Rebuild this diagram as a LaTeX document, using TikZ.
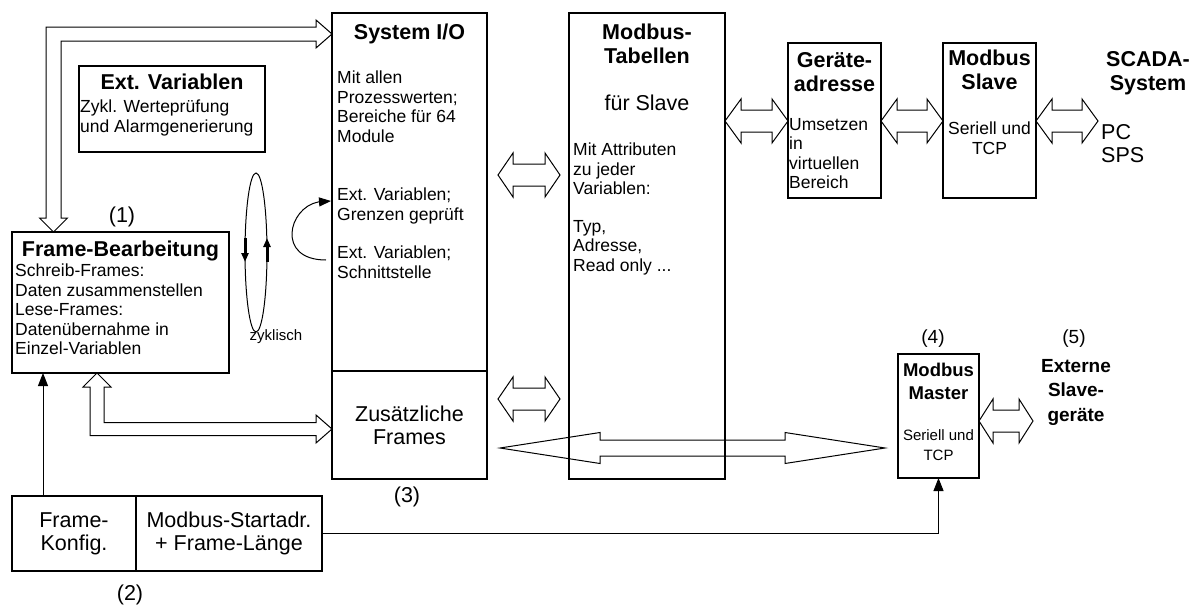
\documentclass[tikz,border=0pt]{standalone}
\usepackage{fontspec}
\setmainfont{Liberation Sans}
\usepackage{tikz}
\usetikzlibrary{arrows.meta, positioning, calc, shapes.geometric}
\newcommand{\ttlfont}{\fontsize{21.5pt}{24pt}\selectfont\bfseries}
\newcommand{\ttlsfont}{\fontsize{18.5pt}{23pt}\selectfont\bfseries}
\newcommand{\txtfont}{\fontsize{17.5pt}{19.5pt}\selectfont}
\newcommand{\bigfont}{\fontsize{21.5pt}{23pt}\selectfont}
\newcommand{\smlfont}{\fontsize{15pt}{20pt}\selectfont}
% hollow double arrow: left tip, right tip, head length, head half width, shaft half width
\newcommand{\dblarrow}[5]{%
  \draw[hollow] let \p1=(#1), \p2=(#2) in
    (\p1) -- (\x1+#3,\y1+#4) -- (\x1+#3,\y1+#5) -- (\x2-#3,\y1+#5)
    -- (\x2-#3,\y1+#4) -- (\x2,\y1) -- (\x2-#3,\y1-#4) -- (\x2-#3,\y1-#5)
    -- (\x1+#3,\y1-#5) -- (\x1+#3,\y1-#4) -- cycle;}
\tikzset{
	box/.style   ={rectangle, draw=black, line width=1.1pt, inner sep=0pt, outer sep=0pt, anchor=north west},
	ttl/.style   ={font=\ttlfont, inner sep=0pt, align=center},
	txt/.style   ={font=\txtfont, inner sep=0pt, align=left},
	big/.style   ={font=\bigfont, inner sep=0pt, align=center},
	sml/.style   ={font=\smlfont, inner sep=0pt, align=center},
	hollow/.style={draw=black, line width=1pt, line join=miter},
	sig/.style   ={-{Triangle[length=13pt, width=10pt]}, line width=1pt},
	cycarr/.style={-{Triangle[length=9pt, width=7pt]}, line width=3pt},
}
\begin{document}
\begin{tikzpicture}[x=1pt, y=1pt]
	\useasboundingbox (0,0) rectangle (1201,-605);
	% boxes
	\node[box, minimum width=186pt, minimum height=86pt] (extv) at (79,-66) {};
	\node[box, minimum width=217pt, minimum height=141pt] (fb) at (12,-232) {};
	\node[box, minimum width=155pt, minimum height=358pt] (sysio) at (332,-13) {};
	\node[box, below=0pt of sysio, minimum width=155pt, minimum height=108pt, font=\bigfont, align=center] (zusf) {Zusätzliche\\Frames};
	\node[box, below right=0pt and 82pt of sysio.north east, minimum width=156pt, minimum height=466pt] (tab) {};
	\node[box, below right=30pt and 63pt of tab.north east, minimum width=93pt, minimum height=155pt] (geraet) {};
	\node[box, right=62pt of geraet, minimum width=93pt, minimum height=155pt] (slave) {};
	\node[box, minimum width=81pt, minimum height=124pt] (master) at (898,-354) {};
	\node[box, minimum width=124pt, minimum height=75pt, font=\bigfont, align=center] (fk) at (12,-496) {Frame-\\Konfig.};
	\node[box, right=0pt of fk, minimum width=186pt, minimum height=75pt, font=\bigfont, align=center] (msa) {Modbus-Startadr.\\+ Frame-Länge};
	% texts
	\node[ttl, below=8pt of extv.north] (extvttl) {Ext. Variablen};
	\node[txt, below right=34pt and 1pt of extv.north west] (extvtxt) {Zykl. Werteprüfung\\und Alarmgenerierung};
	\node[ttl, below=9pt of fb.north] (fbttl) {Frame-Bearbeitung};
	\node[txt, below right=32pt and 3pt of fb.north west] (fbtxt) {Schreib-Frames:\\Daten zusammenstellen\\Lese-Frames:\\Datenübernahme in\\Einzel-Variablen};
	\node[big] (n1) at (122,-217) {(1)};
	\node[ttl, below=11pt of sysio.north] (sysiottl) {System I/O};
	\node[txt, below right=58pt and 5pt of sysio.north west] (sysiotxta) {Mit allen\\Prozesswerten;\\Bereiche für 64\\Module};
	\node[txt, below right=175pt and 5pt of sysio.north west] (sysiotxtb) {Ext. Variablen;\\Grenzen geprüft};
	\node[txt, below right=233pt and 5pt of sysio.north west] (sysiotxtc) {Ext. Variablen;\\Schnittstelle};
	\node[big] (n3) at (407,-497) {(3)};
	\node[ttl, below=11pt of tab.north] (tabttl) {Modbus-\\Tabellen};
	\node[big, below=82pt of tab.north] (tabslave) {für Slave};
	\node[txt, below right=130pt and 4pt of tab.north west] (tabtxta) {Mit Attributen\\zu jeder\\Variablen:};
	\node[txt, below right=207pt and 4pt of tab.north west] (tabtxtb) {Typ,\\Adresse,\\Read only ...};
	\node[ttl, below=9pt of geraet.north] (geraetttl) {Geräte-\\adresse};
	\node[txt, below right=75pt and 1pt of geraet.north west] (geraettxt) {Umsetzen\\in\\virtuellen\\Bereich};
	\node[ttl, below=7pt of slave.north] (slavettl) {Modbus\\Slave};
	\node[txt, align=center, below=79pt of slave.north] (slavetxt) {Seriell und\\TCP};
	\node[ttl, anchor=north] (scada) at (1148,-51) {SCADA-\\System};
	\node[big, anchor=north west, align=left] (pcsps) at (1101,-124) {PC\\SPS};
	\node[big, font=\fontsize{19pt}{23pt}\selectfont] (n4) at (933,-339) {(4)};
	\node[ttl, font=\ttlsfont, below=9pt of master.north] (masterttl) {Modbus\\Master};
	\node[sml, below=75pt of master.north] (mastertxt) {Seriell und\\TCP};
	\node[big, font=\fontsize{19pt}{23pt}\selectfont] (n5) at (1074,-339) {(5)};
	\node[ttl, font=\fontsize{19pt}{24.5pt}\selectfont\bfseries, anchor=north] (extslave) at (1076,-359) {Externe\\Slave-\\geräte};
	\node[big] (n2) at (130,-595) {(2)};
	% cycle
	\node[draw, ellipse, line width=1pt, inner sep=0pt, outer sep=0pt, minimum width=22pt, minimum height=159pt] (cyc) at (256,-252.5) {};
	\node[sml] (zykl) at (276,-337) {zyklisch};
	\draw[cycarr] ($(cyc.west)+(0,14.5)$) -- ($(cyc.west)+(0,-9.5)$);
	\draw[cycarr] ($(cyc.east)+(0,-9.5)$) -- ($(cyc.east)+(0,14.5)$);
	\coordinate (loopin) at (326,-260);
	\coordinate (loopout) at (318,-202);
	\draw[sig, -{Triangle[length=12pt, width=9pt]}] (loopin) .. controls +(-50,0) and +(-30,-6) .. (loopout) -- ($(sysio.north west)+(-1,-188)$);
	% thin connectors
	\draw[sig] ($(fk.north west)+(31,0)$) -- ($(fb.south west)+(31,0)$);
	\draw[sig] (msa.east) -| (master.south);
	% hollow connectors
	\draw[hollow] let \p1=($(fb.north west)+(41.5,0)$), \p2=($(sysio.north west)+(0,-21)$) in
		(\p1) -- (\x1+14,\y1+14) -- (\x1+7.5,\y1+14) -- (\x1+7.5,\y2-7) -- (\x2-16,\y2-7) -- (\x2-16,\y2-14)
		-- (\p2) -- (\x2-16,\y2+14) -- (\x2-16,\y2+7) -- (\x1-7.5,\y2+7) -- (\x1-7.5,\y1+14) -- (\x1-14,\y1+14) -- cycle;
	\draw[hollow] let \p1=($(fb.south west)+(85,0)$), \p2=($(zusf.west)+(0,-4)$) in
		(\p1) -- (\x1+14,\y1-14) -- (\x1+7,\y1-14) -- (\x1+7,\y2+6.5) -- (\x2-16,\y2+6.5) -- (\x2-16,\y2+14)
		-- (\p2) -- (\x2-16,\y2-14) -- (\x2-16,\y2-6.5) -- (\x1-7,\y2-6.5) -- (\x1-7,\y1-14) -- (\x1-14,\y1-14) -- cycle;
	\coordinate (scadain) at (1098,-121);
	\coordinate (extin) at (1033,-421);
	\dblarrow{$(sysio.north east)+(11,-162)$}{$(tab.north west)+(-9,0)$}{15}{22}{11}
	\dblarrow{$(zusf.north east)+(11,-28)$}{$(tab.west)+(-9,0)$}{15}{22}{11}
	\dblarrow{$(tab.north east)+(0,-108)$}{geraet.west}{16}{22}{11}
	\dblarrow{$(geraet.north east)+(0,-78)$}{slave.west}{16}{22}{11}
	\dblarrow{$(slave.north east)+(0,-78)$}{scadain}{16}{22}{11}
	\dblarrow{$(master.north east)+(0,-67)$}{extin}{14}{22}{11}
	\dblarrow{$(zusf.east)+(13,-23)$}{$(master.west)+(-13,0)$}{100}{15.5}{8}
\end{tikzpicture}
\end{document}
